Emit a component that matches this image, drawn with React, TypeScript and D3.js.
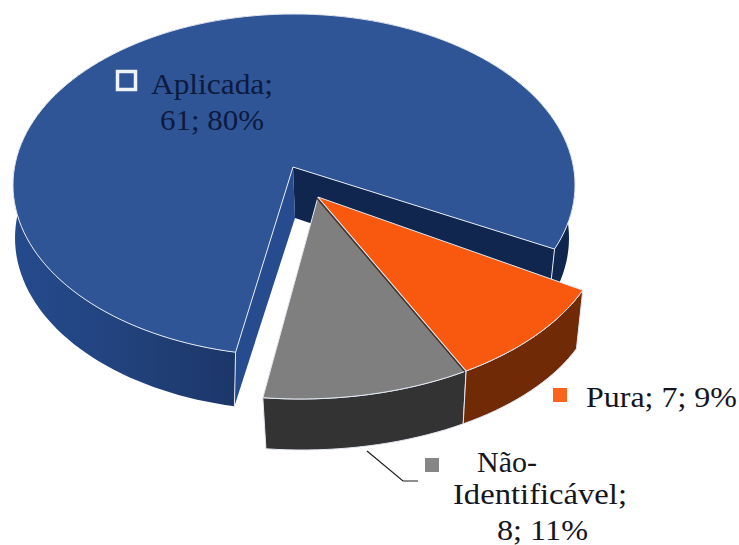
import React from "react";
import * as d3 from "d3";

const categories = ["Aplicada", "Pura", "Não-Identificável"];
const counts = [61, 7, 8];
const percents = ["80%", "9%", "11%"];

const W = 739, H = 545;
const FONT = "'Liberation Serif', serif";
const DEG = Math.PI / 180;

// pie angle (deg) -> drawn ellipse angle (deg): the 3D perspective of the original squeezes the slices unevenly
const total = d3.sum(counts);
const pie = d3.pie<number>().sort(null).startAngle(0).endAngle(2 * Math.PI);
const arcs = pie(counts);
const warp = d3.scaleLinear()
  .domain([0, (counts[0] / total) * 360, ((counts[0] + counts[1]) / total) * 360, 360])
  .range([192, 472, 507, 547]);

type E = { cx: number; cy: number; rx: number; ry: number };
const backTop: E = { cx: 294, cy: 185, rx: 281, ry: 171 };
const backBottom: E = { cx: 292, cy: 238, rx: 277, ry: 172 };
const frontTop: E = { cx: 300, cy: 225, rx: 305, ry: 174 };
const frontBottom: E = { cx: 302, cy: 288, rx: 296, ry: 162 };

const at = (e: E, deg: number): [number, number] => [
  e.cx + e.rx * Math.sin(deg * DEG),
  e.cy - e.ry * Math.cos(deg * DEG),
];
const sweep = (e: E, a: number, b: number): [number, number][] => {
  const n = Math.max(2, Math.ceil(Math.abs(b - a) / 2));
  return d3.range(n + 1).map((i) => at(e, a + ((b - a) * i) / n));
};
const line = d3.line();
const span = (i: number) => [
  warp((arcs[i].startAngle * 180) / Math.PI),
  warp((arcs[i].endAngle * 180) / Math.PI),
];

const apexBlueTop: [number, number] = [293, 167];
const apexBlueBottom: [number, number] = [295, 218];
const apexFront: [number, number] = [318, 197];

const [b0, b1] = span(0);
const [o0, o1] = span(1);
const [g0, g1] = span(2);

const blueTop = line([apexBlueTop, ...sweep(backTop, b0, b1)]) + "Z";
const blueSide = line([...sweep(backTop, b0, b1), ...sweep(backBottom, b1, b0)]) + "Z";
const blueFaceLeft = line([apexBlueTop, at(backTop, b0), at(backBottom, b0), apexBlueBottom]) + "Z";
const blueFaceRight = line([apexBlueTop, at(backTop, b1), at(backBottom, b1), apexBlueBottom]) + "Z";
const blueCornerL = line([at(backTop, b0), at(backBottom, b0)]) as string;
const blueCornerR = line([at(backTop, b1), at(backBottom, b1)]) as string;

const orangeTop = line([apexFront, ...sweep(frontTop, o0, o1)]) + "Z";
const orangeSide = line([...sweep(frontTop, o0, o1), ...sweep(frontBottom, o1, o0)]) + "Z";
const grayTop = line([apexFront, ...sweep(frontTop, g0, g1)]) + "Z";
const graySide = line([...sweep(frontTop, g0, g1), ...sweep(frontBottom, g1, g0)]) + "Z";
const seam = line([apexFront, at(frontTop, o1)]) as string;

const label0 = [`${categories[0]};`, `${counts[0]}; ${percents[0]}`];
const label1 = `${categories[1]}; ${counts[1]}; ${percents[1]}`;
const label2 = ["Não-", "Identificável;", `${counts[2]}; ${percents[2]}`];

const edge = { stroke: "#e4e9f2", strokeWidth: 1, strokeLinejoin: "round" as const };

const Label = ({ x, y, len, fill, children }: { x: number; y: number; len: number; fill: string; children: string }) => (
  <text x={x} y={y} textLength={len} lengthAdjust="spacingAndGlyphs" fill={fill}>
    {children}
  </text>
);

export default function App() {
  return (
    <svg
      width={W}
      height={H}
      viewBox={`0 0 ${W} ${H}`}
      style={{ position: "absolute", left: 0, top: 0, background: "#fff" }}
    >
      <defs>
        <linearGradient id="blueSide" x1="0" x2="1" y1="0" y2="0">
          <stop offset="0" stopColor="#254a8c" />
          <stop offset="0.18" stopColor="#22437f" />
          <stop offset="0.30" stopColor="#1f3c72" />
          <stop offset="0.41" stopColor="#1b3567" />
          <stop offset="0.42" stopColor="#10264f" />
          <stop offset="1" stopColor="#10264f" />
        </linearGradient>
      </defs>

      <path d={blueSide} fill="url(#blueSide)" />
      <path d={blueFaceRight} fill="#10264f" />
      <path d={blueFaceLeft} fill="#264b8e" />
      <path d={blueCornerL} {...edge} fill="none" />
      <path d={blueCornerR} {...edge} fill="none" />
      <path d={blueTop} fill="#2f5597" {...edge} />

      <path d={graySide} fill="#333333" {...edge} />
      <path d={orangeSide} fill="#702b06" {...edge} />
      <path d={grayTop} fill="#7f7f7f" {...edge} />
      <path d={orangeTop} fill="#f9590f" {...edge} />
      <path d={seam} stroke="#3a2c22" strokeWidth={1.2} fill="none" transform="translate(-1.4,0.8)" />

      <polyline points="367,451 403,481 418,481" fill="none" stroke="#1f1f1f" strokeWidth={1.2} />

      <rect x={117.5} y={71.5} width={18} height={18} fill="#2f5597" stroke="#eef2fa" strokeWidth={3.5} />
      <rect x={553} y={388} width={14} height={14} fill="#f9631c" />
      <rect x={425} y={458} width={14} height={14} fill="#858585" />

      <g fontFamily={FONT} fontSize={28.5}>
        <Label x={151} y={94} len={122} fill="#0d1a3d">{label0[0]}</Label>
        <Label x={160} y={130} len={104} fill="#0d1a3d">{label0[1]}</Label>
        <Label x={586} y={407} len={151} fill="#15151f">{label1}</Label>
        <Label x={477} y={472} len={60} fill="#15151f">{label2[0]}</Label>
        <Label x={453} y={504} len={174} fill="#15151f">{label2[1]}</Label>
        <Label x={497} y={540} len={91} fill="#15151f">{label2[2]}</Label>
      </g>
    </svg>
  );
}
